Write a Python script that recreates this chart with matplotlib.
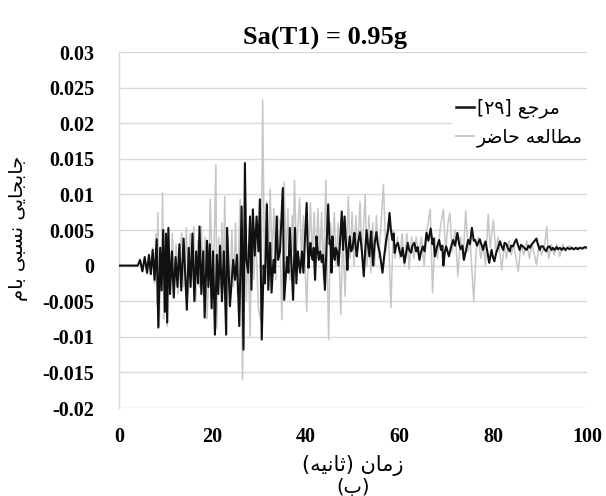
import matplotlib
matplotlib.use("Agg")
import matplotlib.pyplot as plt
from matplotlib.lines import Line2D

# ---------------- data ----------------
# series "مرجع [۲۹]" (black): (time [s], roof drift)
ref_points = [
    (0, 0), (4, 0), (4.5, 0.0008), (5.0, -0.0008), (5.5, 0.0012), (6.0, -0.001),
    (6.4, 0.0015), (6.8, -0.0012), (7.2, 0.0022), (7.6, -0.002), (8.05, 0.0037),
    (8.4, -0.0087), (8.8, 0.0025), (9.1, -0.0035), (9.45, 0.005), (9.8, -0.0065),
    (10.05, 0.0045), (10.3, -0.008), (10.55, 0.0053), (10.9, -0.004), (11.3, 0.002),
    (11.7, -0.0045), (12.1, 0.0012), (12.5, -0.003), (12.9, 0.003), (13.3, -0.0035),
    (13.8, 0.0038), (14.5, -0.0062), (14.9, 0.0025), (15.3, -0.003), (15.7, 0.0045),
    (16.1, -0.005), (16.5, 0.002), (16.9, -0.0025), (17.2, 0.0055), (17.6, -0.004),
    (18.0, 0.002), (18.3, -0.0073), (18.8, 0.0035), (19.1, -0.003), (19.4, 0.003),
    (19.8, -0.006), (20.1, 0.002), (20.5, -0.0097), (20.9, 0.0015), (21.2, -0.004),
    (21.6, 0.0028), (22.0, -0.005), (22.4, 0.002), (22.9, -0.0097), (23.1, 0.0053),
    (23.7, -0.0057), (24.4, 0.0008), (24.8, -0.002), (25.2, 0.0015), (25.7, -0.0085),
    (26.2, 0.0083), (26.6, -0.0118), (26.9, 0.0144), (27.2, 0.0008), (27.6, -0.001),
    (28.0, 0.0069), (28.3, -0.0034), (28.6, 0.0079), (29.0, 0.0014), (29.4, 0.0069),
    (29.8, 0.002), (30.1, 0.0093), (30.5, -0.0104), (30.9, 0.0), (31.2, -0.0025),
    (31.6, 0.0086), (31.9, -0.0034), (32.3, 0.0032), (32.6, -0.0038), (33.0, 0.0008),
    (33.3, -0.001), (33.7, 0.0069), (34.0, 0.0008), (34.4, 0.002), (35.0, 0.0109),
    (35.3, -0.0048), (35.9, 0.0012), (36.2, -0.001), (36.5, 0.0053), (37.2, -0.0048),
    (37.6, 0.0053), (37.9, -0.0025), (38.2, 0.002), (38.7, -0.001), (39.1, 0.002),
    (39.4, -0.001), (40.1, 0.0088), (40.3, 0.003), (40.5, -0.0003), (40.7, 0.002),
    (40.9, 0.0032), (41.1, 0.0015), (41.4, 0.0008), (41.6, 0.0025), (41.9, -0.002),
    (42.2, 0.0041), (42.4, 0.0025), (42.7, 0.0008), (43.0, 0.002), (43.3, 0.0005),
    (43.6, 0.0015), (44.0, -0.0034), (44.3, 0.002), (44.7, 0.0086), (45.0, 0.003),
    (45.2, 0.0035), (45.4, -0.001), (45.6, 0.0041), (45.9, 0.0015), (46.1, 0.0008),
    (46.3, 0.0025), (46.6, 0.002), (46.9, 0.0), (47.2, 0.003), (47.6, 0.0076),
    (47.9, 0.0022), (48.2, 0.0069), (48.5, 0.003), (48.8, -0.0006), (49.0, 0.002),
    (49.3, 0.0041), (49.6, 0.002), (49.9, 0.0024), (50.1, 0.0036), (50.3, 0.0046),
    (50.6, 0.0025), (50.8, 0.0013), (51.1, 0.0032), (51.5, 0.0047), (51.9, 0.002),
    (52.3, -0.0015), (52.6, 0.002), (52.9, 0.005), (53.2, 0.003), (53.5, 0.0013),
    (53.7, 0.0035), (53.9, 0.0048), (54.1, 0.002), (54.3, 0.0), (54.6, 0.003),
    (55.0, 0.0047), (55.3, 0.003), (55.7, 0.0019), (56.0, 0.0005), (56.3, -0.001),
    (56.7, 0.0015), (57.1, 0.0036), (57.5, 0.005), (57.8, 0.0074), (58.1, 0.005),
    (58.4, 0.0036), (58.7, 0.0045), (58.9, 0.0018), (59.2, 0.0028), (59.6, 0.0032),
    (59.9, 0.0022), (60.3, 0.0013), (60.6, 0.0025), (61.0, 0.0004), (61.3, 0.0015),
    (61.7, 0.0032), (62.0, 0.0022), (62.4, 0.0018), (62.7, 0.0028), (63.1, 0.0032),
    (63.5, 0.002), (63.8, 0.0026), (64.2, 0.0008), (64.5, 0.0018), (64.9, 0.0027),
    (65.3, 0.002), (65.7, 0.0046), (66.1, 0.0035), (66.6, 0.0052), (67.0, 0.003),
    (67.2, 0.0038), (67.5, 0.0013), (67.9, 0.0025), (68.4, 0.0036), (68.8, 0.0022),
    (69.1, 0.0028), (69.3, 0.0), (69.6, 0.0018), (69.9, 0.0027), (70.2, 0.002),
    (70.5, 0.0013), (70.9, 0.0025), (71.4, 0.0036), (71.8, 0.0028), (72.3, 0.0046),
    (72.7, 0.003), (73.0, 0.0023), (73.4, 0.0028), (73.7, 0.0008), (74.1, 0.002),
    (74.6, 0.0036), (75.0, 0.003), (75.4, 0.0053), (75.8, 0.0035), (76.1, 0.0036),
    (76.5, 0.0028), (77.1, 0.0037), (77.4, 0.003), (77.8, 0.0022), (78.0, 0.0028),
    (78.3, 0.0034), (78.7, 0.002), (79.1, 0.0004), (79.4, 0.0015), (79.6, 0.0022),
    (79.9, 0.0012), (80.2, 0.0006), (80.6, 0.0018), (81.0, 0.0025), (81.4, 0.0034),
    (81.7, 0.0028), (82.1, 0.0022), (82.4, 0.0032), (82.8, 0.003), (83.1, 0.0024),
    (83.5, 0.002), (83.8, 0.0028), (84.2, 0.0027), (84.5, 0.0032), (84.9, 0.0037),
    (85.2, 0.003), (85.6, 0.0022), (85.9, 0.0029), (86.3, 0.0027), (86.7, 0.0024),
    (87.1, 0.0022), (87.5, 0.0028), (87.8, 0.0025), (88.2, 0.003), (88.6, 0.0033),
    (89.2, 0.0038), (89.5, 0.003), (89.9, 0.0022), (90.2, 0.0027), (90.6, 0.0027),
    (90.9, 0.0023), (91.3, 0.002), (91.6, 0.0026), (92.0, 0.0027), (92.4, 0.0022),
    (92.7, 0.0025), (93.1, 0.0022), (93.5, 0.0026), (93.8, 0.0023), (94.2, 0.0025),
    (94.6, 0.0022), (95.0, 0.0025), (95.4, 0.0022), (95.8, 0.0025), (96.3, 0.0023),
    (96.7, 0.0025), (97.2, 0.0023), (97.6, 0.0025), (98.0, 0.0023), (98.5, 0.0025),
    (99.0, 0.0024), (99.5, 0.0026), (100, 0.0025),
]

# series "مطالعه حاضر" (light grey): (time [s], roof drift)
cur_points = [
    (0, 0), (4, 0), (4.5, 0.0006), (5.0, -0.0009), (5.5, 0.001), (6.0, -0.0012),
    (6.4, 0.0012), (6.8, -0.001), (7.2, 0.0025), (7.6, -0.0025), (7.9, 0.0045),
    (8.1, -0.0055), (8.3, 0.0074), (8.6, -0.0085), (8.9, 0.002), (9.1, -0.002),
    (9.3, 0.0102), (9.6, -0.0075), (10.0, 0.0045), (10.3, -0.0085), (10.6, 0.004),
    (11.0, -0.003), (11.4, 0.0045), (11.8, -0.002), (12.2, 0.003), (12.6, -0.004),
    (13.0, 0.002), (13.4, 0.0046), (13.8, -0.003), (14.4, 0.0053), (14.8, -0.004),
    (15.2, 0.0045), (15.6, -0.002), (16.0, 0.0055), (16.4, -0.005), (16.8, 0.0035),
    (17.2, -0.003), (17.6, 0.0055), (18.0, -0.002), (18.4, 0.004), (18.8, -0.0075),
    (19.2, -0.001), (19.5, 0.0093), (20.1, -0.004), (20.7, 0.0142), (20.9, -0.0088),
    (21.3, 0.004), (21.7, -0.003), (22.0, 0.006), (22.3, -0.002), (22.6, 0.0097),
    (22.9, -0.004), (23.3, 0.004), (23.7, -0.005), (24.1, 0.005), (24.5, -0.003),
    (24.9, 0.006), (25.3, -0.004), (25.9, 0.0093), (26.4, -0.016), (26.8, 0.006),
    (27.2, -0.005), (27.6, 0.003), (28.0, -0.0099), (28.4, 0.006), (28.8, -0.002),
    (29.2, 0.005), (29.8, -0.0062), (30.3, -0.0076), (30.7, 0.0233), (31.1, -0.002),
    (31.5, 0.009), (31.9, -0.001), (32.3, 0.0107), (32.7, 0.001), (33.1, 0.008),
    (33.5, -0.002), (33.9, 0.007), (34.3, 0.006), (34.8, -0.0076), (35.3, 0.0117),
    (35.7, 0.001), (36.1, 0.008), (36.5, -0.002), (37.0, 0.007), (37.2, 0.002),
    (37.5, 0.012), (37.9, 0.002), (38.6, 0.0095), (39.0, 0.001), (39.4, 0.007),
    (40.1, -0.0064), (40.5, 0.002), (40.9, 0.0088), (41.3, 0.001), (41.7, 0.0075),
    (42.1, 0.0), (42.5, 0.008), (42.9, 0.001), (43.3, 0.0075), (43.7, -0.002),
    (44.2, 0.012), (44.8, -0.0104), (45.2, 0.006), (45.6, 0.001), (46.0, 0.0075),
    (46.4, 0.0), (46.8, 0.006), (47.4, -0.0069), (47.8, 0.005), (48.3, -0.0043),
    (49.0, 0.0097), (49.4, 0.001), (49.8, 0.0075), (50.2, 0.0), (50.6, 0.007),
    (51.0, 0.002), (51.5, 0.009), (51.9, 0.001), (52.6, 0.010), (53.0, 0.0),
    (53.4, 0.007), (53.8, -0.001), (54.2, 0.006), (54.6, 0.0), (55.0, 0.007),
    (55.5, 0.001), (56.0, 0.006), (56.5, 0.0114), (57.0, 0.002), (57.5, 0.006),
    (58.1, -0.0059), (58.6, 0.005), (59.0, 0.001), (59.5, 0.004), (60.0, 0.001),
    (60.5, 0.0045), (61.0, 0.0), (61.5, 0.0045), (62.0, -0.0005), (62.5, 0.004),
    (63.0, 0.001), (63.5, 0.004), (64.0, 0.0015), (64.6, 0.004), (65.2, 0.0),
    (65.8, 0.005), (66.5, 0.0079), (67.0, -0.0038), (67.5, 0.004), (68.0, 0.001),
    (68.6, 0.005), (69.3, 0.0079), (69.8, 0.002), (70.3, 0.006), (70.7, 0.0074),
    (71.2, 0.002), (71.8, 0.005), (72.4, -0.0015), (73.0, 0.004), (73.5, 0.001),
    (74.1, 0.0077), (74.6, 0.002), (75.0, 0.004), (75.8, -0.005), (76.3, 0.002),
    (76.8, 0.004), (77.3, 0.001), (77.8, 0.003), (78.3, 0.0), (78.9, 0.0072),
    (79.3, 0.0025), (80.0, 0.0064), (80.5, 0.002), (81.0, 0.004), (81.8, -0.0006),
    (82.3, 0.003), (82.8, 0.001), (83.3, 0.0035), (83.8, 0.0015), (84.3, 0.003),
    (85.3, -0.0008), (85.9, 0.003), (86.5, 0.0015), (87.1, 0.0035), (87.7, 0.001),
    (88.3, 0.003), (89.2, 0.0001), (89.8, 0.003), (90.3, 0.0015), (91.0, 0.003),
    (91.4, 0.0055), (91.8, 0.001), (92.4, 0.003), (93.0, 0.0015), (93.6, 0.003),
    (94.2, 0.0013), (94.8, 0.003), (95.4, 0.002), (96.2, 0.0028), (97.0, 0.0022),
    (98.0, 0.0026), (99.0, 0.0023), (100, 0.0025),
]
ref_t = [p[0] for p in ref_points]
ref_v = [p[1] for p in ref_points]
cur_t = [p[0] for p in cur_points]
cur_v = [p[1] for p in cur_points]

x_ticks = [0, 20, 40, 60, 80, 100]
y_ticks = [-0.02, -0.015, -0.01, -0.005, 0, 0.005, 0.01, 0.015, 0.02, 0.025, 0.03]
y_tick_labels = ["-0.02", "-0.015", "-0.01", "-0.005", "0", "0.005", "0.01",
                 "0.015", "0.02", "0.025", "0.03"]
title = "Sa(T1) = 0.95g"
label_ref = "مرجع [۲۹]"
label_cur = "مطالعه حاضر"
x_label = "زمان (ثانیه)"
sub_label = "(ب)"
y_label = "جابجایی نسبی بام"

# ---------------- minimal Persian shaping (presentation forms) ----------------
FORMS = {
    'ا': ('\uFE8D', '\uFE8E', None, None),
    'ب': ('\uFE8F', '\uFE90', '\uFE91', '\uFE92'),
    'ث': ('\uFE99', '\uFE9A', '\uFE9B', '\uFE9C'),
    'ج': ('\uFE9D', '\uFE9E', '\uFE9F', '\uFEA0'),
    'ح': ('\uFEA1', '\uFEA2', '\uFEA3', '\uFEA4'),
    'ر': ('\uFEAD', '\uFEAE', None, None),
    'ز': ('\uFEAF', '\uFEB0', None, None),
    'س': ('\uFEB1', '\uFEB2', '\uFEB3', '\uFEB4'),
    'ض': ('\uFEBD', '\uFEBE', '\uFEBF', '\uFEC0'),
    'ط': ('\uFEC1', '\uFEC2', '\uFEC3', '\uFEC4'),
    'ع': ('\uFEC9', '\uFECA', '\uFECB', '\uFECC'),
    'ل': ('\uFEDD', '\uFEDE', '\uFEDF', '\uFEE0'),
    'م': ('\uFEE1', '\uFEE2', '\uFEE3', '\uFEE4'),
    'ن': ('\uFEE5', '\uFEE6', '\uFEE7', '\uFEE8'),
    'ه': ('\uFEE9', '\uFEEA', '\uFEEB', '\uFEEC'),
    'ی': ('\uFBFC', '\uFBFD', '\uFBFE', '\uFBFF'),
}


def rtl(s):
    out = []
    n = len(s)
    for i, ch in enumerate(s):
        f = FORMS.get(ch)
        if f is None:
            out.append(ch)
            continue
        prev = s[i - 1] if i > 0 else None
        nxt = s[i + 1] if i < n - 1 else None
        jp = prev in FORMS and FORMS[prev][2] is not None
        jn = nxt in FORMS and f[2] is not None
        if jp and jn:
            out.append(f[3])
        elif jp:
            out.append(f[1])
        elif jn:
            out.append(f[2])
        else:
            out.append(f[0])
    shaped = ''.join(out)
    rev = shaped[::-1]
    res, run = [], []
    for ch in rev:
        if ch.isdigit():
            run.append(ch)
        else:
            if run:
                res.extend(run[::-1]); run = []
            res.append(ch)
    if run:
        res.extend(run[::-1])
    mirror = {'(': ')', ')': '(', '[': ']', ']': '['}
    return ''.join(mirror.get(c, c) for c in res)


# ---------------- figure ----------------
fig = plt.figure(figsize=(6.06, 4.96), dpi=100)
ax = fig.add_axes([119 / 606, 1 - 408 / 496, (587 - 119) / 606, (408 - 52) / 496])

grid_c = '#d9d9d9'
ax.plot(cur_t, cur_v, color='#c6c6c6', lw=1.1, zorder=3)
ax.plot(ref_t, ref_v, color='#111111', lw=1.5, zorder=4)

ax.set_xlim(0, 100)
ax.set_ylim(-0.02, 0.03)
ax.set_xticks(x_ticks)
ax.set_yticks(y_ticks)
ax.set_yticklabels(y_tick_labels)
ax.yaxis.grid(True, color=grid_c, lw=1.0)
ax.set_axisbelow(True)
for s in ['top', 'right', 'bottom']:
    ax.spines[s].set_visible(False)
ax.spines['left'].set_color(grid_c)
ax.spines['left'].set_linewidth(1.0)
ax.tick_params(length=0)
for lab in ax.get_xticklabels() + ax.get_yticklabels():
    lab.set_fontfamily('Liberation Serif')
    lab.set_fontweight('bold')
    lab.set_fontsize(14.5)
ax.tick_params(axis='y', pad=18)
ax.tick_params(axis='x', pad=14)

fig.text(325 / 606, 1 - 38 / 496, title, ha='center', va='center',
         family='Liberation Serif', weight='bold', size=19)

fig.text(353 / 606, 1 - 466 / 496, rtl(x_label), ha='center', va='center',
         family=['DejaVu Sans'], size=15)
fig.text(353 / 606, 1 - 487 / 496, rtl(sub_label), ha='center', va='center',
         family=['DejaVu Sans'], size=14)
fig.text(19 / 606, 1 - 228 / 496, rtl(y_label), ha='center', va='center',
         rotation=90, family=['DejaVu Sans'], size=14)

handles = [Line2D([], [], color='#111111', lw=1.8),
           Line2D([], [], color='#c6c6c6', lw=1.3)]
leg = ax.legend(handles, [rtl(label_ref), rtl(label_cur)], loc='upper right',
                bbox_to_anchor=(1.0, 0.88), frameon=True, fancybox=False,
                edgecolor='none', facecolor='white', framealpha=1.0,
                prop=dict(family='DejaVu Sans', size=13.5), handlelength=1.0,
                handletextpad=0.15, labelspacing=0.5, borderaxespad=0.0,
                borderpad=0.2)
leg.set_zorder(10)

fig.savefig('out.png', dpi=100)
